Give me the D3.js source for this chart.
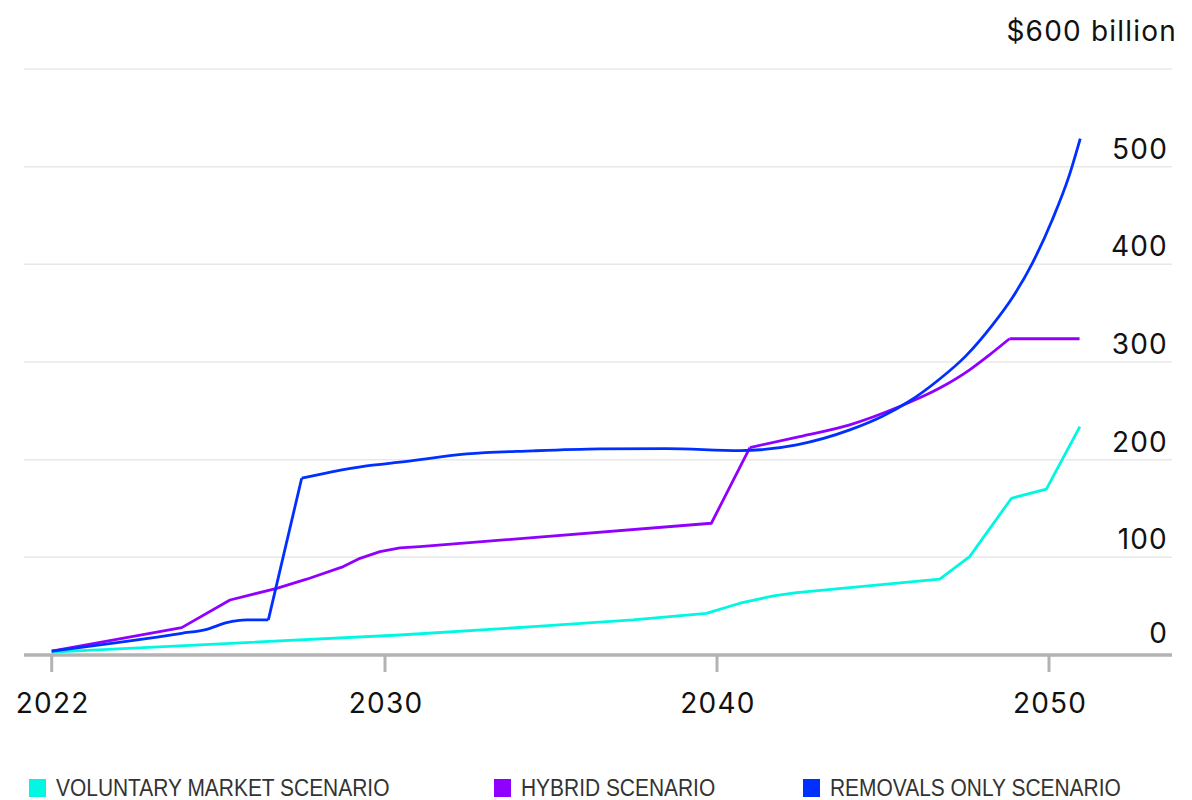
<!DOCTYPE html>
<html>
<head>
<meta charset="utf-8">
<script src="https://cdn.jsdelivr.net/npm/d3@7"></script>
<style>
  html, body { margin: 0; padding: 0; background: #fff; }
  svg { display: block; font-family: Inter, "Noto Sans", sans-serif; }
</style>
</head>
<body>
<svg id="chart" width="1192" height="800"></svg>
<script>
// series (year, $ billion)
const voluntary = [
  [2022, 3], [2030.45, 20.5], [2034.46, 29], [2037.47, 35.9], [2039.68, 42.7],
  [2040.69, 53], [2041.7, 60.5], [2042.4, 63.8], [2046.71, 77.6], [2047.61, 100.7],
  [2048.87, 160.5], [2049.92, 169.8], [2050.93, 233.9]
];
const hybrid = [
  [2022, 4], [2025.12, 28], [2026.28, 56.3], [2027.4, 68.3], [2028.12, 77.6],
  [2029.0, 90.5], [2029.4, 99], [2029.88, 105.8], [2030.45, 109.6], [2031.05, 111],
  [2039.83, 134.9], [2040.99, 212.4], [2042.49, 223.7], [2044.0, 235.7],
  [2045.5, 254.4], [2046.71, 273.3], [2047.61, 292], [2048.21, 307.4],
  [2048.81, 323.8], [2050.92, 323.8]
];
const removals = [
  [2022, 4], [2025.12, 22.2], [2025.72, 26.3], [2026.2, 33.1], [2026.68, 35.9],
  [2027.2, 35.9], [2028.0, 181], [2028.75, 187.8], [2029.56, 193.6], [2030.45, 197.4],
  [2032.46, 205.9], [2034.46, 209], [2036.47, 211], [2038.48, 211.4], [2040.69, 209.3],
  [2042.4, 215.2], [2044.0, 230.5], [2044.97, 244.2], [2045.78, 259.5],
  [2046.68, 281.8], [2047.49, 306], [2048.3, 338],
  [2048.9, 366], [2049.5, 401.3], [2050.1, 445.7], [2050.6, 490], [2050.94, 528.6]
];

const seriesNames = ["VOLUNTARY MARKET SCENARIO", "HYBRID SCENARIO", "REMOVALS ONLY SCENARIO"];
const seriesColors = ["#00f7e2", "#9000ff", "#0030ff"];
const yTicks = [0, 100, 200, 300, 400, 500, 600];
const xTicks = [2022, 2030, 2040, 2050];

const svg = d3.select("#chart");
const plotLeft = 24, plotRight = 1172;

// the first tick sits closer to 2030 than a plain linear axis would put it
const x = d3.scaleLinear()
  .domain([2022, 2030, 2050])
  .range([51.7, 385, 1049]);
const y = d3.scaleLinear()
  .domain([0, 600])
  .range([655, 69]);

// gridlines
svg.append("g")
  .selectAll("line")
  .data(yTicks.filter(d => d > 0))
  .join("line")
  .attr("x1", plotLeft)
  .attr("x2", plotRight)
  .attr("y1", d => y(d))
  .attr("y2", d => y(d))
  .attr("stroke", "#e8e8e8")
  .attr("stroke-width", 1.5);

// y labels, right side, above each line
svg.append("g")
  .selectAll("text")
  .data(yTicks)
  .join("text")
  .attr("x", d => d === 600 ? 1177 : 1168)
  .attr("y", d => d === 600 ? 41 : y(d) - (d === 0 ? 12 : 8))
  .attr("text-anchor", "end")
  .attr("font-size", 28)
  .attr("letter-spacing", 1.2)
  .attr("fill", "#111")
  .text(d => d === 600 ? "$600 billion" : d);

// x axis
const xAxis = svg.append("g");
xAxis.append("line")
  .attr("x1", plotLeft)
  .attr("x2", plotRight)
  .attr("y1", y(0))
  .attr("y2", y(0))
  .attr("stroke", "#b3b3b3")
  .attr("stroke-width", 3.5);
xAxis.selectAll(".tick")
  .data(xTicks)
  .join("line")
  .attr("class", "tick")
  .attr("x1", d => x(d))
  .attr("x2", d => x(d))
  .attr("y1", y(0))
  .attr("y2", y(0) + 17)
  .attr("stroke", "#b3b3b3")
  .attr("stroke-width", 3);
xAxis.selectAll(".tick-label")
  .data(xTicks)
  .join("text")
  .attr("class", "tick-label")
  .attr("x", d => x(d) + 1)
  .attr("y", 713)
  .attr("text-anchor", "middle")
  .attr("font-size", 28)
  .attr("letter-spacing", 1.2)
  .attr("fill", "#111")
  .text(d => d);

// lines
const straight = d3.line()
  .x(d => x(d[0]))
  .y(d => y(d[1]));
const smooth = d3.line()
  .curve(d3.curveMonotoneX)
  .x(d => x(d[0]))
  .y(d => y(d[1]));

const lines = svg.append("g")
  .attr("fill", "none")
  .attr("stroke-width", 2.8)
  .attr("stroke-linejoin", "round");

function addPath(d, color) {
  lines.append("path").attr("d", d).attr("stroke", color);
}

addPath(straight(voluntary), seriesColors[0]);

// hybrid: straight except the curved climb after the 2040 step
const hA = hybrid.findIndex(d => d[0] === 2040.99);
const hB = hybrid.findIndex(d => d[0] === 2048.81);
addPath(straight(hybrid.slice(0, hA + 1)), seriesColors[1]);
addPath(smooth(hybrid.slice(hA, hB + 1)), seriesColors[1]);
addPath(straight(hybrid.slice(hB)), seriesColors[1]);

// removals: smooth pieces either side of the straight 2027-28 jump
const jump = removals.findIndex(d => d[0] === 2028.0);
addPath(smooth(removals.slice(0, jump)), seriesColors[2]);
addPath(straight(removals.slice(jump - 1, jump + 1)), seriesColors[2]);
addPath(smooth(removals.slice(jump)), seriesColors[2]);

// legend
const legendX = [29, 494, 803];
const legend = svg.append("g")
  .selectAll("g")
  .data(seriesNames)
  .join("g")
  .attr("transform", (d, i) => `translate(${legendX[i]}, 779)`);
legend.append("rect")
  .attr("width", 17)
  .attr("height", 18)
  .attr("fill", (d, i) => seriesColors[i]);
legend.append("text")
  .attr("x", 27)
  .attr("y", 17)
  .attr("font-family", "'Liberation Sans', Arial, sans-serif")
  .attr("font-size", 23)
  .attr("fill", "#333")
  .text(d => d)
  .each(function () {
    // legend type is condensed in the original
    const w = this.getComputedTextLength();
    d3.select(this).attr("textLength", w * 0.91).attr("lengthAdjust", "spacingAndGlyphs");
  });
</script>
</body>
</html>
